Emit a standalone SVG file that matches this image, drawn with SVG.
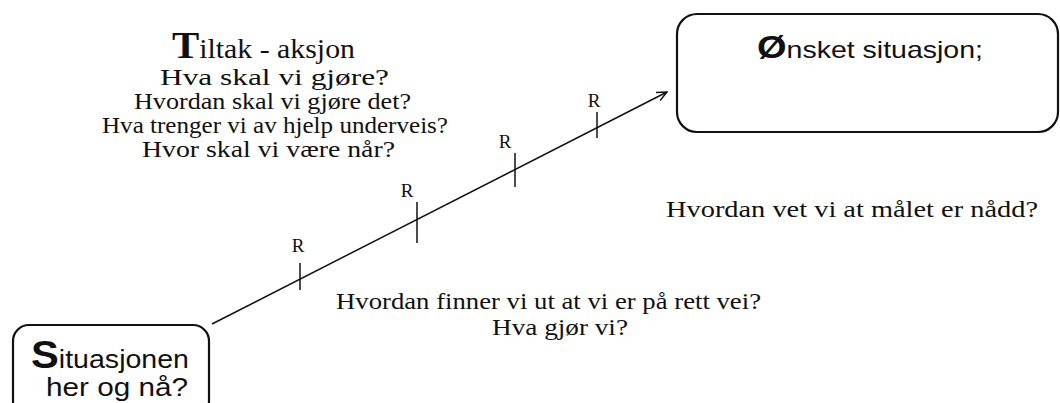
<svg xmlns="http://www.w3.org/2000/svg" width="1060" height="403" viewBox="0 0 1060 403">
  <defs>
    <style>
      .box { fill: #ffffff; stroke: #111111; stroke-width: 2.2; }
      .serif { font-family: "Liberation Serif", "Times New Roman", serif; fill: #111111; }
      .sans { font-family: "Liberation Sans", Arial, sans-serif; fill: #111111; }
      .conn { stroke: #111111; stroke-width: 1.5; fill: none; }
      .tick { stroke: #111111; stroke-width: 1.5; }
    </style>
    <marker id="arrow" viewBox="0 0 12 12" refX="11" refY="6" markerWidth="12" markerHeight="12" markerUnits="userSpaceOnUse" orient="auto">
      <polyline points="1,1.5 11,6 1,10.5" fill="none" stroke="#111111" stroke-width="1.4"/>
    </marker>
  </defs>
  <rect width="1060" height="403" fill="#ffffff"/>

  <g id="connectors">
    <line class="conn" x1="212" y1="324" x2="667" y2="92" marker-end="url(#arrow)"/>
    <line class="tick" x1="300" y1="263" x2="300" y2="290"/>
    <line class="tick" x1="417" y1="202" x2="417" y2="243"/>
    <line class="tick" x1="515" y1="153" x2="515" y2="187"/>
    <line class="tick" x1="597" y1="112" x2="597" y2="138"/>
    <text class="serif" x="298" y="252" font-size="19" text-anchor="middle">R</text>
    <text class="serif" x="407" y="197" font-size="19" text-anchor="middle">R</text>
    <text class="serif" x="505" y="148" font-size="19" text-anchor="middle">R</text>
    <text class="serif" x="594" y="107" font-size="19" text-anchor="middle">R</text>
  </g>

  <g id="node-situasjonen">
    <rect class="box" x="13" y="325" width="196" height="92" rx="16" ry="16"/>
    <text class="sans" x="31" y="368" font-size="26" textLength="158" lengthAdjust="spacingAndGlyphs"><tspan font-size="38" font-weight="bold">S</tspan>ituasjonen</text>
    <text class="sans" x="46" y="396" font-size="26" textLength="142" lengthAdjust="spacingAndGlyphs">her og nå?</text>
  </g>

  <g id="node-onsket">
    <rect class="box" x="677" y="14" width="381" height="118" rx="20" ry="20"/>
    <text class="sans" x="757" y="58" font-size="24" textLength="226" lengthAdjust="spacingAndGlyphs"><tspan font-size="32" font-weight="bold">Ø</tspan>nsket situasjon;</text>
  </g>

  <g id="text-tiltak">
    <text class="serif" x="172" y="58" font-size="27" textLength="183" lengthAdjust="spacingAndGlyphs"><tspan font-size="37" font-weight="bold">T</tspan>iltak -  aksjon</text>
    <text class="serif" x="160" y="85" font-size="23" textLength="229" lengthAdjust="spacingAndGlyphs">Hva skal vi gjøre?</text>
    <text class="serif" x="134" y="109" font-size="23" textLength="277" lengthAdjust="spacingAndGlyphs">Hvordan skal vi gjøre det?</text>
    <text class="serif" x="102" y="133" font-size="23" textLength="346" lengthAdjust="spacingAndGlyphs">Hva trenger vi av hjelp underveis?</text>
    <text class="serif" x="142" y="157" font-size="23" textLength="253" lengthAdjust="spacingAndGlyphs">Hvor skal vi være når?</text>
  </g>

  <g id="text-maal">
    <text class="serif" x="666" y="217" font-size="23" textLength="372" lengthAdjust="spacingAndGlyphs">Hvordan vet vi at målet er nådd?</text>
  </g>

  <g id="text-vei">
    <text class="serif" x="336" y="309" font-size="23" textLength="425" lengthAdjust="spacingAndGlyphs">Hvordan finner vi ut at vi er på rett vei?</text>
    <text class="serif" x="492" y="335" font-size="23" textLength="136" lengthAdjust="spacingAndGlyphs">Hva gjør vi?</text>
  </g>
</svg>
